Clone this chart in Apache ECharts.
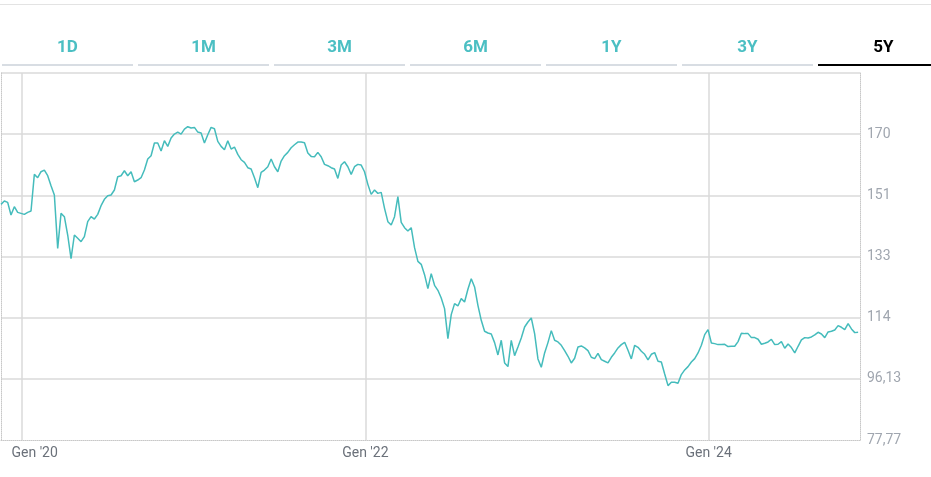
<!DOCTYPE html>
<html><head><meta charset="utf-8">
<script src="https://cdn.jsdelivr.net/npm/echarts@6/dist/echarts.min.js"></script>
<style>
html,body{margin:0;padding:0;background:#fff;width:931px;height:477px;overflow:hidden;font-family:Roboto,"Noto Sans",sans-serif}
#chart{position:absolute;left:0;top:0;width:931px;height:477px}
#topline{position:absolute;left:0;top:4px;width:931px;height:1px;background:#e3e3e3}
.tab{position:absolute;top:34px;width:131px;height:32px;text-align:center;font-size:17px;font-weight:700;color:#4bbfc3;line-height:24px;border-bottom:2px solid #d8dde3;box-sizing:border-box}
.tab.active{color:#000;border-bottom-color:#000}
</style></head>
<body>
<div id="chart"></div>
<div id="topline"></div>
<div id="tabs"></div>
<script>
const tabLabels = ['1D','1M','3M','6M','1Y','3Y','5Y'];
const activeTab = '5Y';

const startDate = '2019-11-18';
const endDate = '2024-11-14';
const axisMin = '2019-11-18';
const axisMax = '2024-11-18';

const prices = [
148.5,149.5,149.1,145.3,147.8,146.1,145.8,145.5,146.1,146.5,
157.5,156.5,158.3,158.8,157.1,154.1,151.3,135.3,145.8,144.8,
139.3,132.2,139.3,138.3,137.3,138.8,143.3,144.8,144.1,145.5,
148.1,150.0,151.1,151.3,152.8,156.8,157.1,158.6,157.1,158.3,
155.3,155.8,156.5,158.8,162.1,163.1,166.9,166.9,164.5,167.6,
165.9,168.4,169.6,170.2,169.6,171.1,171.8,171.4,171.6,170.2,
169.9,166.9,169.4,171.6,171.2,
167.4,165.9,164.9,167.6,165.1,165.7,163.5,161.9,161.1,159.5,
159.1,156.5,153.5,158.1,158.8,159.8,162.1,159.8,158.3,161.5,
163.1,164.1,165.5,166.4,167.2,167.2,167.0,163.9,162.9,162.8,
164.1,162.8,160.5,160.1,159.5,159.1,156.3,160.3,161.3,159.8,
157.5,159.8,160.5,160.3,158.3,154.5,151.5,152.8,151.8,152.1,
147.3,143.3,142.3,144.8,150.8,143.1,141.5,140.5,141.5,135.5,
131.4,130.5,127.4,123.2,
127.7,124.2,122.7,120.4,117.2,108.2,115.4,118.7,118.0,120.2,
119.2,123.0,126.2,123.7,118.2,113.7,110.4,109.9,109.6,107.0,
103.3,107.7,100.9,99.8,107.7,103.1,105.7,108.4,111.7,113.2,
114.4,109.7,102.1,99.6,103.9,107.0,110.6,107.7,107.2,106.2,
104.6,102.9,100.9,102.3,105.7,106.0,105.4,104.6,102.6,102.2,
103.8,101.9,101.4,100.9,102.6,103.9,105.4,106.4,107.1,104.7,
102.1,106.2,105.6,104.4,103.5,
101.8,103.5,104.0,101.4,101.2,97.6,94.1,95.1,95.1,94.8,
97.4,98.8,99.8,101.2,102.2,103.9,106.2,109.4,110.9,106.9,
106.7,106.4,106.4,106.5,105.8,105.9,105.9,107.3,109.8,109.7,
109.7,108.5,108.5,108.0,106.5,106.8,107.2,108.0,106.4,106.5,
107.3,105.3,106.6,105.5,103.9,105.9,107.8,108.5,108.4,108.7,
109.3,110.1,109.6,108.5,110.2,110.4,110.8,112.1,111.6,110.9,
112.7,111.1,110.0,110.1
];

const yTickValues = [77.77, 96.13, 114.49, 132.85, 151.21, 169.57, 187.93];
const yTickLabels = ['77,77', '96,13', '114', '133', '151', '170', ''];
const xTickDates = ['2020-01-01', '2022-01-01', '2024-01-01'];
const xTickLabels = ["Gen '20", "Gen '22", "Gen '24"];

// tabs
const tabsEl = document.getElementById('tabs');
tabLabels.forEach((t, i) => {
  const d = document.createElement('div');
  d.className = 'tab' + (t === activeTab ? ' active' : '');
  d.style.left = (2 + 136 * i) + 'px';
  d.textContent = t;
  tabsEl.appendChild(d);
});

function ts(s) { return new Date(s + 'T00:00:00').getTime(); }
const t0 = ts(startDate), t1 = ts(endDate);
const step = (t1 - t0) / (prices.length - 1);
const seriesData = prices.map((v, i) => [t0 + i * step, v]);
const xTicks = xTickDates.map(ts);

const chart = echarts.init(document.getElementById('chart'), null, {renderer: 'canvas'});
chart.setOption({
  animation: false,
  grid: {left: 1, right: 71, top: 73, bottom: 37},
  xAxis: {
    type: 'value',
    min: ts(axisMin),
    max: ts(axisMax),
    axisLine: {show: true, lineStyle: {color: '#c8c8c8', type: 'dotted', width: 1}},
    axisTick: {show: false, customValues: xTicks},
    splitLine: {show: true, lineStyle: {color: '#dadada', width: 1.5}},
    axisLabel: {
      customValues: xTicks,
      margin: 6,
      color: '#6b717a',
      fontSize: 14,
      fontFamily: 'Roboto',
      formatter: function (val) {
        const k = xTicks.findIndex(t => Math.abs(t - val) < 86400000);
        if (k < 0) return '';
        return k === 0 ? '{f|' + xTickLabels[k] + '}' : xTickLabels[k];
      },
      rich: {f: {padding: [0, 0, 0, 26], color: '#6b717a', fontSize: 14, fontFamily: 'Roboto'}}
    }
  },
  yAxis: [{
    type: 'value',
    position: 'right',
    min: yTickValues[0],
    max: yTickValues[yTickValues.length - 1],
    interval: 18.36,
    axisLine: {show: true, lineStyle: {color: '#c8c8c8', type: 'dotted', width: 1}},
    axisTick: {show: false},
    splitLine: {show: true, showMinLine: false, lineStyle: {color: '#dadada', width: 1.5}},
    axisLabel: {
      margin: 7,
      padding: [3, 0, 0, 0],
      color: '#a0a6af',
      fontSize: 14,
      fontFamily: 'Roboto',
      formatter: function (v) {
        const k = yTickValues.findIndex(t => Math.abs(t - v) < 0.05);
        return k >= 0 ? yTickLabels[k] : '';
      }
    }
  }, {
    type: 'value',
    position: 'left',
    min: yTickValues[0],
    max: yTickValues[yTickValues.length - 1],
    axisLine: {show: true, lineStyle: {color: '#c8c8c8', type: 'dotted', width: 1}},
    axisTick: {show: false},
    axisLabel: {show: false},
    splitLine: {show: false}
  }],
  series: [{
    type: 'line',
    data: seriesData,
    yAxisIndex: 0,
    showSymbol: false,
    symbol: 'none',
    lineStyle: {color: '#45bcbc', width: 1.5},
    itemStyle: {color: '#45bcbc'}
  }]
});
</script>
</body></html>
